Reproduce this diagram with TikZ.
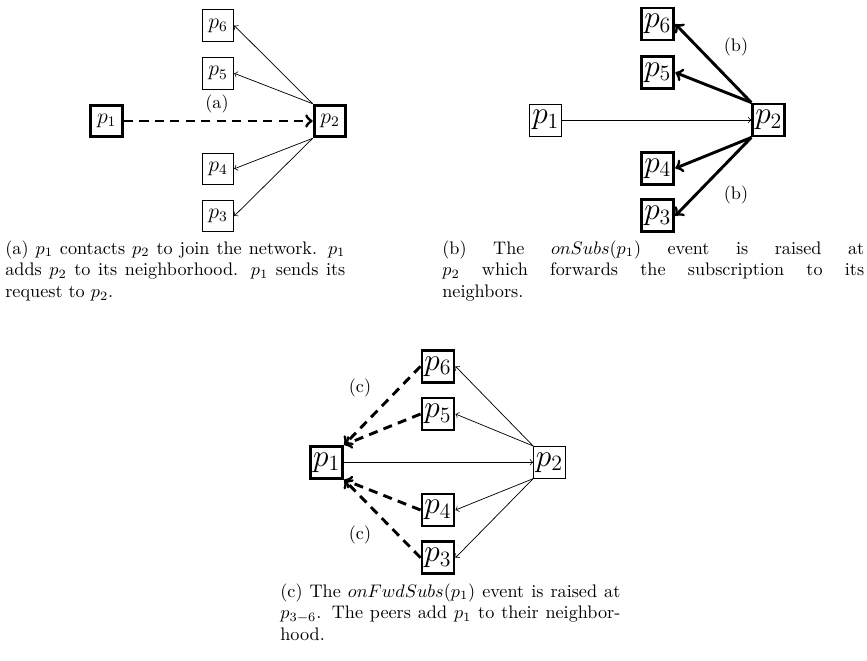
\documentclass[tikz,border=0pt]{standalone}

\begin{document}
\begin{tikzpicture}[x=0.55pt, y=-0.55pt,
    peer/.style={draw, thin, minimum size=17.4pt, inner sep=0.5pt, font=\large},
    bigpeer/.style={draw, thin, minimum size=17.6pt, inner sep=0.5pt, font=\LARGE},
    chosen/.style={ultra thick},
    msg/.style={->, thin},
    fwdmsg/.style={->, ultra thick},
    joinmsg/.style={->, ultra thick, dash pattern=on 5pt off 3.5pt},
    steplabel/.style={font=\normalsize},
    captext/.style={anchor=north west, inner sep=0pt, align=justify}]

  \useasboundingbox (0,0) rectangle (867,660);

  % (a) p1 contacts p2
  \node[peer, chosen] (a1) at (106.7,121) {$p_1$};
  \node[peer, chosen] (a2) at (330,121) {$p_2$};
  \node[peer] (a6) at (218,25.5) {$p_6$};
  \node[peer] (a5) at (218,73.3) {$p_5$};
  \node[peer] (a4) at (218,168.8) {$p_4$};
  \node[peer] (a3) at (218,216) {$p_3$};
  \draw[joinmsg] (a1) -- (a2);
  \foreach \i in {6,5} \draw[msg] (a2.north west) -- (a\i.east);
  \foreach \i in {4,3} \draw[msg] (a2.south west) -- (a\i.east);
  \node[steplabel] (la) at (217,104) {(a)};
  \node[captext, text width=187pt] (ca) at (5,240)
    {(a) $p_1$ contacts $p_2$ to join the network. $p_1$\linebreak
     adds $p_2$ to its neighborhood. $p_1$ sends its\linebreak
     request to $p_2$.};

  % (b) p2 forwards the subscription
  \node[bigpeer] (b1) at (545.8,120) {$p_1$};
  \node[bigpeer, chosen] (b2) at (768.8,120) {$p_2$};
  \node[bigpeer, chosen] (b6) at (657.8,24) {$p_6$};
  \node[bigpeer, chosen] (b5) at (657.8,72.5) {$p_5$};
  \node[bigpeer, chosen] (b4) at (657.8,168.3) {$p_4$};
  \node[bigpeer, chosen] (b3) at (657.8,215.8) {$p_3$};
  \draw[msg] (b1) -- (b2);
  \foreach \i in {6,5} \draw[fwdmsg] (b2.north west) -- (b\i.east);
  \foreach \i in {4,3} \draw[fwdmsg] (b2.south west) -- (b\i.east);
  \node[steplabel] (lb1) at (736,47) {(b)};
  \node[steplabel] (lb2) at (736,195) {(b)};
  \node[captext, text width=232pt] (cb) at (442,240)
    {(b) The $onSubs(p_1)$ event is raised at\linebreak
     $p_2$ which forwards the subscription to its\linebreak
     neighbors.};

  % (c) the peers add p1
  \node[bigpeer, chosen] (c1) at (326.7,462.3) {$p_1$};
  \node[bigpeer] (c2) at (549.5,462.3) {$p_2$};
  \node[bigpeer, chosen] (c6) at (438,366.3) {$p_6$};
  \node[bigpeer, chosen] (c5) at (438,414) {$p_5$};
  \node[bigpeer, chosen] (c4) at (438,510) {$p_4$};
  \node[bigpeer, chosen] (c3) at (438,557.7) {$p_3$};
  \draw[msg] (c1) -- (c2);
  \foreach \i in {6,5} {
    \draw[msg] (c2.north west) -- (c\i.east);
    \draw[joinmsg] (c\i.west) -- (c1.north east);
  }
  \foreach \i in {4,3} {
    \draw[msg] (c2.south west) -- (c\i.east);
    \draw[joinmsg] (c\i.west) -- (c1.south east);
  }
  \node[steplabel] (lc1) at (360,388) {(c)};
  \node[steplabel] (lc2) at (360,535) {(c)};
  \node[captext, text width=187pt] (cc) at (280,583)
    {(c) The $onFwdSubs(p_1)$ event is raised at\linebreak
     $p_{3-6}$. The peers add $p_1$ to their neighbor-\linebreak
     hood.};
\end{tikzpicture}
\end{document}
